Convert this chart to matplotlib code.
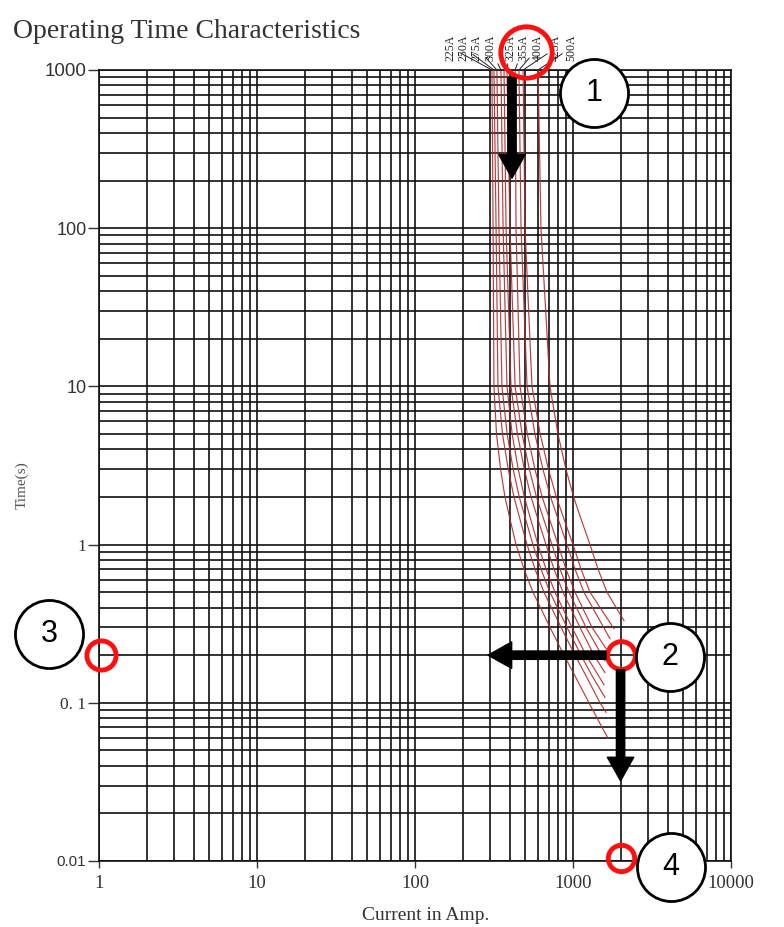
import numpy as np
import matplotlib.pyplot as plt
from matplotlib.ticker import LogLocator, NullFormatter

# time levels (s) the curves were read at
levels = [1000, 100, 10, 5, 3, 2, 1.5, 1, 0.7, 0.5, 0.3, 0.2, 0.15, 0.1, 0.07]

# currents (A), one list per curve (left to right)
cur_225 = [307, 312, 316, 328, 348, 371, 396, 436, 490, 558, 715, 877, 1022, 1262, 1526, 1665]
cur_250 = [316, 326, 335, 358, 389, 423, 457, 512, 575, 655, 840, 1030, 1200, 1482, 1618]
cur_275 = [330, 340, 355, 383, 418, 457, 496, 558, 627, 715, 916, 1124, 1310, 1594]
cur_300 = [350, 361, 382, 412, 450, 492, 534, 600, 675, 769, 985, 1209, 1571]
cur_hid = [366, 377, 405, 445, 492, 543, 593, 675, 758, 864, 1107, 1358, 1594]  # label hidden by ring
cur_325 = [382, 399, 430, 476, 529, 587, 645, 736, 827, 943, 1209, 1594]
cur_355 = [430, 436, 462, 514, 574, 638, 702, 804, 903, 1030, 1319, 1618]
cur_400 = [455, 469, 512, 574, 645, 721, 796, 916, 1030, 1173, 1714]
cur_425 = [483, 497, 550, 620, 699, 784, 867, 1000, 1124, 1281, 1817]
cur_500 = [601, 627, 715, 803, 902, 1009, 1112, 1281, 1440, 1641, 2102]

# trip time (s) where each curve stops
end_times = [0.06, 0.087, 0.108, 0.13, 0.155, 0.184, 0.22, 0.254, 0.294, 0.331]

curves = [cur_225, cur_250, cur_275, cur_300, cur_hid,
          cur_325, cur_355, cur_400, cur_425, cur_500]

# visible labels and the curve each one points at
ratings = ["225A", "250A", "275A", "300A", "325A", "355A", "400A", "425A", "500A"]
rating_curve = [0, 1, 2, 3, 5, 6, 7, 8, 9]

x_ticks = [1, 10, 100, 1000, 10000]
x_tick_labels = ["1", "10", "100", "1000", "10000"]
y_ticks = [0.01, 0.1, 1, 10, 100, 1000]
y_tick_labels = ["0.01", "0. 1", "1", "10", "100", "1000"]

serif = "Liberation Serif"
sans = "Liberation Sans"

fig = plt.figure(figsize=(7.84, 9.27), dpi=100)
ax = fig.add_axes([99 / 784, 1 - 861 / 927, 632 / 784, 791 / 927])
ax.set_xscale("log")
ax.set_yscale("log")
ax.set_xlim(1, 10000)
ax.set_ylim(0.01, 1000)

ax.xaxis.set_minor_locator(LogLocator(base=10, subs=np.arange(2, 10), numticks=100))
ax.yaxis.set_minor_locator(LogLocator(base=10, subs=np.arange(2, 10), numticks=100))
ax.xaxis.set_minor_formatter(NullFormatter())
ax.yaxis.set_minor_formatter(NullFormatter())
ax.grid(True, which="both", color="#111111", lw=1.2)
ax.set_axisbelow(True)
for s in ax.spines.values():
    s.set_color("#111111")
    s.set_linewidth(1.2)

ax.set_xticks(x_ticks)
ax.set_xticklabels(x_tick_labels, fontsize=13.5, family=serif, color="#333333")
ax.set_yticks(y_ticks)
ax.set_yticklabels(y_tick_labels)
y_fams = [(sans, 11), (serif, 12.5), (serif, 12.5), (sans, 13), (sans, 13), (sans, 13.5)]
for lbl, (fam, fs) in zip(ax.get_yticklabels(), y_fams):
    lbl.set_fontfamily(fam)
    lbl.set_fontsize(fs)
    lbl.set_color("#333333")
ax.tick_params(axis="y", which="major", length=8, width=1, pad=1, color="#333333")
ax.tick_params(axis="x", which="major", length=5, width=1, pad=5, color="#333333")
ax.tick_params(which="minor", length=0)

# curves
for cur, t_end in zip(curves, end_times):
    t = levels[:len(cur) - 1] + [t_end]
    ax.plot(cur, t, color="#b22a2a", lw=0.85, alpha=0.9, zorder=3)

# rotated labels with leader lines at the top of each curve
label_dx = [-41, -30, -20, -11, 3, 8, 19, 33, 33]
for name, idx, dx in zip(ratings, rating_curve, label_dx):
    ax.annotate(name, xy=(curves[idx][0], 1000), xytext=(dx, 9), textcoords="offset pixels",
                rotation=90, ha="center", va="bottom", fontsize=8.5, family=serif,
                color="#222222", annotation_clip=False,
                arrowprops=dict(arrowstyle="-", color="#222222", lw=0.7,
                                shrinkA=0, shrinkB=0))

# titles
fig.text(13 / 784, 1 - 32 / 927, "Operating Time Characteristics", fontsize=20,
         family=serif, color="#333333", va="center", ha="left")
fig.text(22 / 784, 1 - 485 / 927, "Time(s)", fontsize=11, family=serif, color="#555555",
         rotation=90, va="center", ha="center")
fig.text(426 / 784, 1 - 915 / 927, "Current in Amp.", fontsize=14, family=serif,
         color="#333333", va="center", ha="center")

# overlay markers: red rings, numbered circles, arrows
red = "#ff1010"
ring_pts = [(504, 1300, 37), (2000, 0.2, 20), (1.03, 0.2, 21), (2000, 0.0105, 19)]
for x, y, ms in ring_pts:
    ax.plot([x], [y], "o", ms=ms, mfc="none", mec=red, mew=3.5, clip_on=False, zorder=10)

num_pts = [("1", 1358, 715), ("2", 4111, 0.195), ("3", 0.483, 0.273), ("4", 4172, 0.00916)]
for txt, x, y in num_pts:
    ax.plot([x], [y], "o", ms=49, mfc="white", mec="black", mew=2, clip_on=False, zorder=11)
    ax.text(x, y, txt, ha="center", va="center", fontsize=22, family=sans,
            color="black", zorder=12, clip_on=False)

arrows = [((411, 890), (411, 207)), ((1618, 0.2), (290, 0.2)), ((2000, 0.162), (2000, 0.0321))]
for start, tip in arrows:
    ax.annotate("", xy=tip, xytext=start, annotation_clip=False,
                arrowprops=dict(arrowstyle="simple,head_width=0.95,head_length=0.85,tail_width=0.3",
                                fc="black", ec="black", mutation_scale=20,
                                shrinkA=0, shrinkB=0), zorder=12)

fig.savefig("out.png", dpi=100)
